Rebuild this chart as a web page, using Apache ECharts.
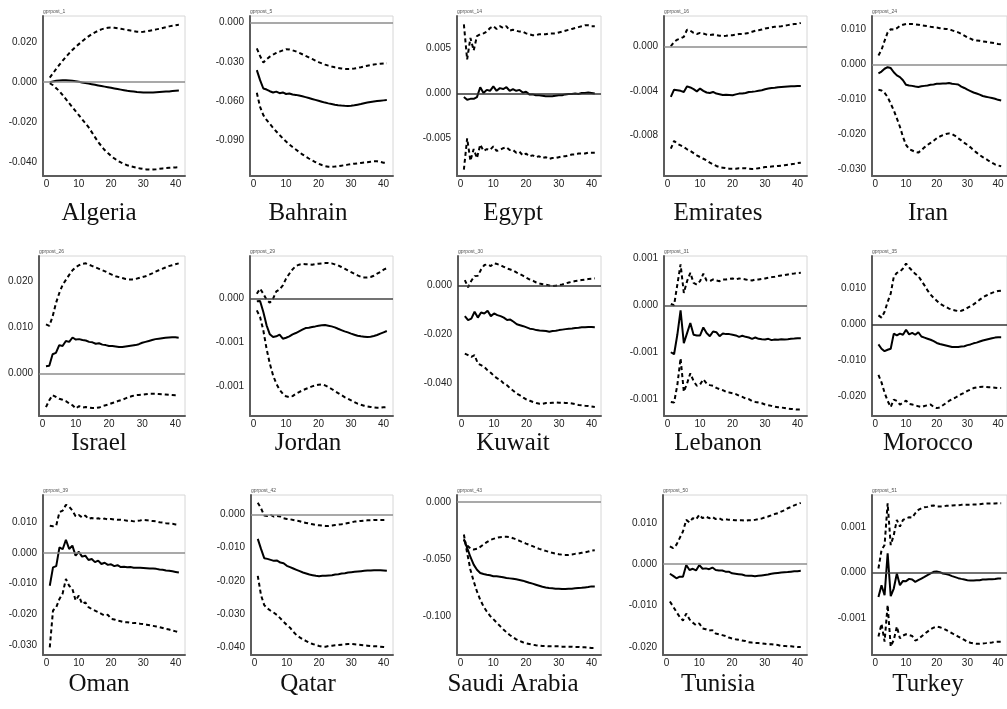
<!DOCTYPE html>
<html>
<head>
<meta charset="utf-8">
<script src="https://cdn.jsdelivr.net/npm/echarts@6/dist/echarts.min.js"></script>
<style>
  html, body { margin: 0; padding: 0; background: #fff; }
  #irf { width: 1007px; height: 709px; }
</style>
</head>
<body>
<div id="irf"></div>
<script>
// horizons after the shock
const horizon = [1, 2, 3, 4, 5, 6, 7, 8, 9, 10, 11, 12, 13, 14, 15, 16, 17, 18, 19, 20,
  21, 22, 23, 24, 25, 26, 27, 28, 29, 30, 31, 32, 33, 34, 35, 36, 37, 38, 39, 40, 41];
const xTicks = [0, 10, 20, 30, 40];

const countries = ['Algeria', 'Bahrain', 'Egypt', 'Emirates', 'Iran',
  'Israel', 'Jordan', 'Kuwait', 'Lebanon', 'Morocco',
  'Oman', 'Qatar', 'Saudi Arabia', 'Tunisia', 'Turkey'];
const shockCodes = ['gprpost_1', 'gprpost_5', 'gprpost_14', 'gprpost_16', 'gprpost_24',
  'gprpost_26', 'gprpost_29', 'gprpost_30', 'gprpost_31', 'gprpost_35',
  'gprpost_39', 'gprpost_42', 'gprpost_43', 'gprpost_50', 'gprpost_51'];

// all responses below are in units of 0.001
const yRange = [[-47, 33.2], [-117.4, 5.1], [-9.2, 8.64], [-11.65, 2.72], [-31.9, 13.9],
  [-9.24, 25.6], [-1.343, 0.489], [-53.2, 12], [-1.179, 0.525], [-25.6, 19.1],
  [-33.3, 18.9], [-42.3, 5.8], [-133.6, 6.1], [-21.9, 16.7], [-0.903, 0.848]];
const yTicks = [[-40, -20, 0, 20], [-90, -60, -30, 0], [-5, 0, 5], [-8, -4, 0], [-30, -20, -10, 0, 10],
  [0, 10, 20], [-1, -0.5, 0], [-40, -20, 0], [-1, -0.5, 0, 0.5], [-20, -10, 0, 10],
  [-30, -20, -10, 0, 10], [-40, -30, -20, -10, 0], [-100, -50, 0], [-20, -10, 0, 10], [-0.5, 0, 0.5]];

// lower band, response, upper band
const algeriaLo = [-0.5, -1.5, -3, -4.5, -6.5, -8.5, -10.5, -12.5, -14.5, -16.5, -18.5, -20.5, -22.5, -25, -27.5, -30, -32, -34, -35.5, -37,
  -38.2, -39.3, -40.2, -41, -41.6, -42.1, -42.5, -42.9, -43.2, -43.5, -43.7, -43.8, -43.7, -43.6, -43.4, -43.2, -43, -42.9, -42.8, -42.7, -42.6];
const algeriaMid = [0, 0.4, 0.7, 0.9, 1.0, 1.0, 0.9, 0.7, 0.5, 0.2, -0.1, -0.4, -0.7, -1.0, -1.3, -1.6, -1.9, -2.2, -2.5, -2.8,
  -3.1, -3.4, -3.7, -4.0, -4.3, -4.5, -4.7, -4.9, -5.0, -5.1, -5.2, -5.2, -5.1, -5.0, -4.9, -4.8, -4.7, -4.6, -4.4, -4.3, -4.2];
const algeriaHi = [2.3, 4.5, 6.7, 8.8, 10.8, 12.7, 14.5, 16.2, 17.7, 19.1, 20.5, 21.8, 23, 24.1, 25, 25.8, 26.5, 27, 27.3, 27.4,
  27.3, 27.1, 26.8, 26.5, 26.2, 25.9, 25.6, 25.3, 25.2, 25.3, 25.5, 25.8, 26.1, 26.5, 26.8, 27.2, 27.6, 28, 28.3, 28.6, 28.8];

const bahrainLo = [-53.7, -64.5, -70.8, -74.5, -77.5, -80.5, -83.3, -86, -88.6, -91, -93.2, -95.2, -97.1, -99, -100.8, -102.4, -104, -105.4, -106.7, -108,
  -109, -109.8, -110.3, -110.4, -110.2, -109.9, -109.5, -109.1, -108.7, -108.3, -108, -107.7, -107.4, -107.1, -106.8, -106.5, -106.2, -106.1, -106.6, -107.2, -107.3];
const bahrainMid = [-36.3, -44, -50.4, -51.2, -52.5, -53.5, -52.8, -54, -53.4, -54.6, -54.2, -55, -55.3, -55.8, -56.4, -57, -57.7, -58.4, -59.1, -59.8,
  -60.5, -61.2, -61.8, -62.3, -62.8, -63.2, -63.5, -63.7, -63.8, -63.6, -63.3, -62.8, -62.3, -61.7, -61.2, -60.7, -60.3, -60, -59.7, -59.5, -59.3];
const bahrainHi = [-19.7, -25.5, -30.5, -28, -26, -24.5, -23.2, -22.2, -21.2, -20.3, -20.5, -21.2, -22.0, -23, -24.2, -25.4, -26.6, -27.8, -29, -30.2,
  -31.2, -32.1, -32.9, -33.6, -34.2, -34.7, -35.1, -35.4, -35.5, -35.4, -35.1, -34.6, -34.1, -33.5, -33, -32.5, -32.1, -31.7, -31.4, -31.2, -31.0];

const egyptLo = [-8.5, -5.0, -7.5, -6.2, -7.2, -5.7, -6.4, -6.2, -6.3, -5.9, -6.4, -6.3, -6.1, -6.0, -6.3, -6.3, -6.6, -6.5, -6.9, -6.7,
  -7.0, -6.9, -7.1, -7.0, -7.2, -7.1, -7.3, -7.2, -7.2, -7.1, -7.0, -7.0, -6.9, -6.8, -6.8, -6.7, -6.7, -6.7, -6.6, -6.6, -6.6];
const egyptMid = [-0.4, -0.7, -0.6, -0.6, -0.4, 0.7, 0.05, 0.4, 0.3, 0.8, 0.3, 0.6, 0.5, 0.7, 0.3, 0.5, 0.3, 0.4, 0.1, 0.2,
  -0.1, -0.1, -0.2, -0.2, -0.25, -0.3, -0.3, -0.3, -0.25, -0.2, -0.2, -0.1, -0.05, -0.05, 0, -0.05, 0.05, 0.05, 0.1, 0.05, 0];
const egyptHi = [7.7, 3.8, 6.2, 4.8, 6.4, 6.6, 6.7, 6.9, 7.3, 7.5, 7.2, 7.5, 7.3, 7.5, 7.0, 7.1, 7.0, 6.9, 6.9, 6.7,
  6.6, 6.5, 6.5, 6.6, 6.6, 6.6, 6.7, 6.7, 6.7, 6.8, 6.9, 7.0, 7.1, 7.2, 7.3, 7.4, 7.5, 7.6, 7.6, 7.5, 7.5];

const emiratesLo = [-9.2, -8.5, -8.75, -8.9, -9.05, -9.25, -9.4, -9.6, -9.8, -9.95, -10.1, -10.25, -10.45, -10.6, -10.75, -10.85, -10.9, -10.95, -11.0, -11.0,
  -11.0, -10.95, -10.95, -10.95, -11.0, -11.02, -11.0, -10.95, -10.9, -10.85, -10.82, -10.8, -10.78, -10.75, -10.72, -10.68, -10.65, -10.6, -10.55, -10.48, -10.45];
const emiratesMid = [-4.55, -3.9, -3.95, -4.0, -4.1, -3.6, -3.7, -3.85, -4.05, -3.8, -4.0, -4.15, -4.2, -4.1, -4.25, -4.3, -4.37, -4.35, -4.37, -4.4,
  -4.32, -4.25, -4.25, -4.2, -4.1, -4.08, -4.05, -4.0, -3.95, -3.86, -3.8, -3.75, -3.72, -3.68, -3.66, -3.64, -3.62, -3.6, -3.58, -3.56, -3.56];
const emiratesHi = [0, 0.4, 0.6, 0.7, 0.85, 1.5, 1.4, 1.2, 1.1, 1.2, 1.15, 1.05, 1.0, 1.05, 1.0, 0.95, 0.92, 0.95, 1.0, 1.0,
  1.05, 1.1, 1.1, 1.15, 1.2, 1.3, 1.4, 1.45, 1.5, 1.6, 1.65, 1.7, 1.75, 1.78, 1.8, 1.85, 1.9, 1.95, 2.0, 2.0, 2.1];

const iranLo = [-7.2, -7.4, -8.1, -9.3, -11.2, -13.1, -15.4, -17.8, -20.7, -23.0, -24.2, -24.6, -25.0, -25.2, -24.5, -23.7, -23.0, -22.4, -21.8, -21.1,
  -20.6, -20.2, -19.9, -19.7, -19.9, -20.4, -21.1, -21.7, -22.4, -23.0, -23.7, -24.5, -25.2, -25.9, -26.5, -27.0, -27.6, -28.1, -28.6, -28.9, -29.1];
const iranMid = [-2.5, -2.0, -1.2, -0.75, -1.0, -2.2, -3.1, -3.6, -4.5, -5.8, -6.0, -6.1, -6.3, -6.4, -6.2, -6.1, -6.0, -5.8, -5.7, -5.5,
  -5.5, -5.4, -5.4, -5.3, -5.5, -5.6, -5.7, -6.3, -6.7, -7.2, -7.6, -8.0, -8.3, -8.6, -9.0, -9.2, -9.4, -9.6, -9.8, -10.1, -10.3];
const iranHi = [2.6, 4.2, 6.8, 9.2, 10.1, 10.0, 10.4, 11.1, 11.4, 11.6, 11.6, 11.6, 11.5, 11.4, 11.2, 11.1, 11.0, 10.8, 10.7, 10.6,
  10.4, 10.3, 10.2, 10.1, 9.8, 9.5, 9.2, 8.8, 8.3, 7.8, 7.4, 7.0, 6.9, 6.8, 6.6, 6.5, 6.4, 6.25, 6.1, 5.9, 5.8];

const israelLo = [-7.3, -5.8, -4.7, -5.1, -5.5, -5.7, -6.0, -6.5, -6.9, -7.6, -7.1, -7.4, -7.3, -7.4, -7.5, -7.5, -7.4, -7.1, -6.9, -6.7,
  -6.4, -6.2, -5.9, -5.7, -5.4, -5.1, -4.9, -4.7, -4.65, -4.6, -4.5, -4.4, -4.4, -4.4, -4.45, -4.5, -4.55, -4.6, -4.65, -4.7, -4.7];
const israelMid = [1.6, 1.7, 4.2, 4.5, 6.2, 6.0, 7.1, 6.9, 7.85, 7.4, 7.5, 7.3, 7.2, 6.9, 6.8, 6.5, 6.6, 6.3, 6.2, 6.0,
  6.0, 5.9, 5.8, 5.8, 5.9, 6.0, 6.1, 6.2, 6.4, 6.7, 6.9, 7.1, 7.3, 7.5, 7.6, 7.7, 7.8, 7.85, 7.9, 7.9, 7.8];
const israelHi = [10.7, 10.4, 12.4, 15.3, 17.5, 19.3, 20.4, 21.5, 22.5, 23.2, 23.6, 23.9, 24.0, 23.7, 23.4, 23.1, 22.8, 22.5, 22.2, 21.8,
  21.5, 21.2, 21.0, 20.8, 20.6, 20.5, 20.5, 20.6, 20.8, 21.0, 21.2, 21.5, 21.8, 22.2, 22.5, 22.8, 23.1, 23.4, 23.6, 23.8, 24.0];

const jordanLo = [-0.134, -0.21, -0.363, -0.573, -0.744, -0.878, -0.973, -1.042, -1.088, -1.118, -1.126, -1.115, -1.088, -1.069, -1.05, -1.034, -1.019, -1.004, -0.992, -0.985,
  -0.981, -0.992, -1.011, -1.034, -1.057, -1.08, -1.103, -1.126, -1.145, -1.164, -1.183, -1.202, -1.214, -1.225, -1.233, -1.24, -1.244, -1.248, -1.248, -1.244, -1.24];
const jordanMid = [-0.03, -0.027, -0.153, -0.305, -0.408, -0.439, -0.431, -0.412, -0.458, -0.447, -0.431, -0.408, -0.393, -0.374, -0.355, -0.336, -0.332, -0.324, -0.317, -0.309,
  -0.305, -0.302, -0.309, -0.317, -0.328, -0.344, -0.359, -0.374, -0.386, -0.4, -0.412, -0.424, -0.431, -0.435, -0.439, -0.435, -0.427, -0.416, -0.4, -0.385, -0.37];
const jordanHi = [0.057, 0.115, 0.057, -0.01, -0.046, 0, 0.084, 0.107, 0.153, 0.23, 0.286, 0.336, 0.374, 0.39, 0.397, 0.395, 0.395, 0.39, 0.397, 0.4,
  0.404, 0.408, 0.41, 0.405, 0.393, 0.382, 0.363, 0.344, 0.324, 0.305, 0.286, 0.267, 0.252, 0.244, 0.244, 0.248, 0.263, 0.286, 0.305, 0.332, 0.35];

const kuwaitLo = [-27.8, -28.4, -29.1, -28.4, -31.8, -32.5, -33.2, -34.6, -35.6, -36.9, -37.9, -38.6, -40.0, -40.7, -42.0, -43.0, -44.1, -44.8, -45.7, -46.5,
  -47.0, -47.5, -47.9, -48.2, -48.2, -47.9, -47.9, -47.8, -47.7, -47.8, -47.8, -47.9, -47.9, -48.1, -48.4, -48.7, -48.8, -49.0, -49.1, -49.3, -49.5];
const kuwaitMid = [-12.5, -14.1, -13.5, -10.7, -13.1, -11.0, -11.4, -10.3, -12.5, -11.4, -12.1, -12.5, -13.1, -14.1, -13.9, -14.8, -15.8, -16.2, -16.6, -17.1,
  -17.6, -17.8, -18.2, -18.4, -18.5, -18.6, -18.9, -18.6, -18.5, -18.2, -18.0, -17.8, -17.6, -17.5, -17.3, -17.2, -17.0, -17.0, -16.9, -16.9, -17.0];
const kuwaitHi = [2.2, -0.8, 1.9, 3.8, 3.9, 6.5, 8.3, 8.6, 7.9, 9.0, 8.7, 8.2, 7.6, 6.9, 6.5, 6.0, 5.2, 4.6, 3.9, 3.1,
  2.4, 1.9, 1.2, 0.8, 0.5, 0.3, 0, -0.3, -0.1, 0.1, 0.4, 0.8, 1.2, 1.5, 1.8, 2.0, 2.2, 2.4, 2.6, 2.7, 2.9];

const lebanonLo = [-1.029, -1.036, -0.85, -0.564, -0.921, -0.832, -0.725, -0.807, -0.857, -0.843, -0.789, -0.832, -0.85, -0.857, -0.879, -0.893, -0.904, -0.921, -0.929, -0.936,
  -0.946, -0.964, -0.975, -0.993, -1.0, -1.021, -1.029, -1.036, -1.043, -1.057, -1.064, -1.071, -1.079, -1.086, -1.089, -1.093, -1.1, -1.104, -1.107, -1.111, -1.111];
const lebanonMid = [-0.5, -0.521, -0.314, -0.054, -0.404, -0.296, -0.189, -0.314, -0.321, -0.321, -0.236, -0.296, -0.329, -0.279, -0.286, -0.329, -0.3, -0.307, -0.307, -0.314,
  -0.321, -0.336, -0.325, -0.336, -0.343, -0.357, -0.343, -0.357, -0.361, -0.364, -0.357, -0.371, -0.364, -0.368, -0.361, -0.364, -0.361, -0.357, -0.354, -0.35, -0.35];
const lebanonHi = [0.014, 0, 0.22, 0.436, 0.132, 0.257, 0.346, 0.239, 0.221, 0.257, 0.336, 0.264, 0.257, 0.275, 0.264, 0.257, 0.275, 0.275, 0.282, 0.286,
  0.275, 0.286, 0.282, 0.275, 0.268, 0.264, 0.275, 0.275, 0.282, 0.286, 0.293, 0.3, 0.304, 0.311, 0.318, 0.321, 0.329, 0.336, 0.339, 0.343, 0.346];

const moroccoLo = [-14.1, -16.2, -19.1, -21.4, -23.1, -21.0, -21.4, -22.4, -21.9, -21.3, -22.2, -22.4, -22.6, -22.9, -23.1, -22.8, -22.6, -22.4, -23.1, -23.4,
  -23.2, -22.6, -22.0, -21.4, -20.9, -20.5, -20.0, -19.5, -19.1, -18.6, -18.2, -17.8, -17.6, -17.5, -17.4, -17.5, -17.6, -17.6, -17.7, -17.8, -17.8];
const moroccoMid = [-5.6, -6.8, -7.5, -7.1, -6.8, -2.6, -3.1, -2.6, -2.9, -1.5, -2.8, -2.4, -2.9, -2.2, -3.4, -3.7, -4.0, -4.3, -4.7, -5.2,
  -5.5, -5.7, -5.9, -6.1, -6.3, -6.3, -6.3, -6.2, -6.1, -5.8, -5.6, -5.3, -5.1, -4.8, -4.5, -4.3, -4.1, -3.9, -3.7, -3.6, -3.6];
const moroccoHi = [2.5, 1.9, 3.5, 6.3, 8.6, 13.3, 14.4, 14.7, 15.6, 17.0, 15.9, 15.0, 14.1, 13.5, 12.2, 10.9, 9.5, 8.3, 7.4, 6.6,
  5.8, 5.3, 4.9, 4.4, 4.1, 3.9, 3.7, 3.8, 4.1, 4.6, 5.1, 5.6, 6.2, 6.9, 7.5, 8.0, 8.4, 8.8, 9.1, 9.3, 9.4];

const omanLo = [-30.8, -18.8, -17.7, -15.0, -13.2, -8.5, -10.7, -11.7, -15.5, -13.9, -16.6, -16.1, -17.7, -18.3, -18.8, -19.3, -19.9, -20.4, -20.2, -21.5,
  -21.7, -22.1, -22.3, -22.6, -22.6, -22.8, -22.9, -22.9, -23.1, -23.2, -23.4, -23.6, -23.8, -24.0, -24.2, -24.5, -24.8, -25.0, -25.3, -25.6, -25.9];
const omanMid = [-10.7, -4.7, -4.3, 1.8, 1.2, 4.3, 1.3, 2.4, -0.9, 0.4, -1.2, -0.9, -2.3, -2.0, -3.0, -2.5, -3.6, -3.2, -3.9, -3.7,
  -4.3, -4.0, -4.6, -4.5, -4.7, -4.6, -4.8, -4.8, -4.8, -4.9, -5.0, -5.1, -5.1, -5.2, -5.4, -5.5, -5.7, -5.8, -6.0, -6.2, -6.4];
const omanHi = [8.9, 8.7, 8.9, 13.3, 13.8, 15.7, 15.1, 13.8, 12.0, 12.4, 11.6, 12.2, 11.1, 11.4, 11.1, 11.3, 11.0, 11.2, 10.9, 11.1,
  10.9, 10.8, 10.8, 10.7, 10.5, 10.5, 10.3, 10.5, 10.6, 10.8, 10.7, 10.5, 10.4, 10.3, 10.0, 9.9, 9.7, 9.6, 9.5, 9.3, 9.2];

const qatarLo = [-18.5, -24.3, -27.3, -28.3, -29.0, -29.6, -30.3, -31.3, -32.3, -33.3, -34.1, -35.3, -36.3, -37.0, -37.6, -38.1, -38.6, -39.0, -39.3, -39.6,
  -39.8, -39.8, -39.6, -39.5, -39.4, -39.3, -39.2, -39.1, -39.0, -39.0, -39.1, -39.2, -39.3, -39.4, -39.5, -39.6, -39.7, -39.7, -39.8, -39.9, -40.0];
const qatarMid = [-7.4, -10.4, -13.2, -13.4, -13.7, -14.0, -13.9, -14.5, -14.7, -15.5, -15.9, -16.3, -16.7, -17.1, -17.5, -17.8, -18.1, -18.3, -18.5, -18.6,
  -18.5, -18.5, -18.4, -18.3, -18.1, -18.0, -17.8, -17.7, -17.5, -17.4, -17.3, -17.2, -17.1, -17.0, -16.9, -16.9, -16.8, -16.8, -16.8, -16.9, -17.0];
const qatarHi = [3.5, 1.8, -0.4, -0.5, -0.2, -0.7, -0.5, -0.7, -1.2, -1.4, -1.5, -1.7, -1.9, -2.1, -2.4, -2.6, -2.8, -3.0, -3.2, -3.3,
  -3.4, -3.5, -3.5, -3.4, -3.2, -3.1, -3.0, -2.8, -2.6, -2.4, -2.2, -2.1, -2.0, -1.9, -1.8, -1.8, -1.7, -1.7, -1.7, -1.7, -1.6];

const saudiLo = [-28.4, -44.4, -59.1, -69.3, -78.1, -85.4, -91.2, -95.6, -99.4, -102.3, -105.3, -108.2, -111.1, -113.7, -116.1, -118.1, -119.9, -121.3, -122.5, -123.4,
  -124.0, -124.6, -125.1, -125.4, -125.7, -125.7, -126.0, -126.0, -126.0, -126.0, -126.3, -126.3, -126.3, -126.3, -126.6, -126.6, -126.9, -126.9, -127.2, -127.5, -127.5];
const saudiMid = [-32.7, -40.0, -48.0, -54.7, -59.1, -62.0, -62.9, -63.5, -64.0, -64.9, -64.9, -65.2, -65.8, -66.4, -66.7, -67.0, -67.5, -68.1, -68.7, -69.6,
  -70.5, -71.3, -72.2, -73.1, -74.0, -74.6, -75.1, -75.4, -75.7, -75.7, -76.0, -76.0, -75.7, -75.7, -75.4, -75.1, -74.9, -74.6, -74.3, -73.7, -73.7];
const saudiHi = [-32.7, -38.0, -40.4, -41.5, -40.9, -39.2, -37.1, -35.1, -33.3, -32.2, -31.3, -30.7, -30.4, -30.4, -30.7, -31.6, -32.7, -33.9, -35.1, -36.3,
  -37.4, -38.6, -39.8, -40.9, -41.8, -42.7, -43.6, -44.4, -45.0, -45.6, -46.0, -46.2, -46.2, -45.9, -45.3, -45.0, -44.4, -43.9, -43.3, -42.4, -42.1];

const tunisiaLo = [-9.0, -10.2, -11.5, -12.7, -13.6, -11.9, -13.3, -14.1, -14.7, -14.3, -15.5, -15.7, -16.0, -15.9, -16.7, -16.9, -17.1, -17.3, -17.7, -17.9,
  -18.1, -18.2, -18.4, -18.5, -18.8, -18.9, -19.0, -19.0, -19.1, -19.2, -19.3, -19.3, -19.4, -19.5, -19.7, -19.7, -19.8, -19.8, -19.9, -20.0, -20.0];
const tunisiaMid = [-2.3, -2.8, -3.4, -3.0, -3.0, -0.2, -1.4, -1.1, -1.5, -0.2, -1.1, -1.0, -1.2, -0.8, -1.4, -1.5, -1.5, -1.8, -1.8, -2.2,
  -2.3, -2.4, -2.5, -2.7, -2.8, -2.8, -2.9, -2.8, -2.7, -2.6, -2.5, -2.3, -2.2, -2.1, -2.0, -1.95, -1.9, -1.8, -1.7, -1.7, -1.6];
const tunisiaHi = [4.3, 3.9, 4.7, 6.3, 7.9, 10.7, 10.1, 11.1, 10.8, 11.9, 11.1, 11.5, 11.1, 11.4, 10.9, 11.1, 10.7, 10.9, 10.7, 10.7,
  10.6, 10.6, 10.6, 10.5, 10.6, 10.6, 10.7, 10.9, 11.0, 11.3, 11.5, 11.8, 12.1, 12.3, 12.7, 13.0, 13.5, 13.8, 14.2, 14.5, 14.8];

const turkeyLo = [-0.701, -0.562, -0.756, -0.355, -0.811, -0.738, -0.592, -0.72, -0.69, -0.676, -0.684, -0.695, -0.745, -0.731, -0.701, -0.672, -0.647, -0.621, -0.603, -0.592,
  -0.6, -0.61, -0.628, -0.647, -0.665, -0.684, -0.701, -0.72, -0.738, -0.758, -0.769, -0.776, -0.78, -0.78, -0.776, -0.773, -0.769, -0.765, -0.76, -0.758, -0.758];
const turkeyMid = [-0.267, -0.139, -0.249, 0.209, -0.26, -0.176, -0.011, -0.139, -0.092, -0.095, -0.07, -0.077, -0.103, -0.084, -0.066, -0.048, -0.029, -0.011, 0.007, 0.011,
  0.004, -0.011, -0.018, -0.026, -0.04, -0.051, -0.062, -0.07, -0.077, -0.084, -0.088, -0.088, -0.084, -0.084, -0.077, -0.077, -0.073, -0.073, -0.07, -0.066, -0.066];
const turkeyHi = [0.044, 0.245, 0.3, 0.758, 0.3, 0.41, 0.575, 0.502, 0.575, 0.593, 0.604, 0.6, 0.648, 0.684, 0.703, 0.714, 0.718, 0.729, 0.733, 0.722,
  0.722, 0.722, 0.729, 0.729, 0.733, 0.736, 0.736, 0.74, 0.74, 0.74, 0.74, 0.744, 0.744, 0.747, 0.751, 0.755, 0.755, 0.755, 0.755, 0.758, 0.758];

const bands = [
  [algeriaLo, algeriaMid, algeriaHi], [bahrainLo, bahrainMid, bahrainHi], [egyptLo, egyptMid, egyptHi],
  [emiratesLo, emiratesMid, emiratesHi], [iranLo, iranMid, iranHi], [israelLo, israelMid, israelHi],
  [jordanLo, jordanMid, jordanHi], [kuwaitLo, kuwaitMid, kuwaitHi], [lebanonLo, lebanonMid, lebanonHi],
  [moroccoLo, moroccoMid, moroccoHi], [omanLo, omanMid, omanHi], [qatarLo, qatarMid, qatarHi],
  [saudiLo, saudiMid, saudiHi], [tunisiaLo, tunisiaMid, tunisiaHi], [turkeyLo, turkeyMid, turkeyHi]
];

// layout (pixels)
const plotLeft = [43, 250, 457, 664, 872, 39, 250, 458, 664, 872, 43, 251, 457, 663, 872];
const colRight = [185, 393, 601, 807, 1015];
const rowTop = [16, 256, 495];
const plotH = 160;
const titleX = [99, 308, 513, 718, 928];
const titleY = [213, 443, 684];
const zeroColor = ['#8c8c8c', '#8c8c8c', '#333', '#8c8c8c', '#8c8c8c',
  '#8c8c8c', '#444', '#333', '#555', '#333',
  '#8c8c8c', '#8c8c8c', '#8c8c8c', '#8c8c8c', '#444'];

const labelFont = { fontSize: 10, color: '#222', fontFamily: 'Liberation Sans, Arial, sans-serif' };

const chart = echarts.init(document.getElementById('irf'));
const grid = [], xAxis = [], yAxis = [], series = [], graphic = [];

countries.forEach((name, i) => {
  const col = i % 5;
  const row = Math.floor(i / 5);
  grid.push({
    left: plotLeft[i], top: rowTop[row], width: colRight[col] - plotLeft[i], height: plotH,
    show: true, borderColor: '#d6d6d6', borderWidth: 1, backgroundColor: '#fff'
  });
  xAxis.push({
    type: 'value', gridIndex: i, min: -1.1, max: 42.9,
    axisLine: { show: true, onZero: false, lineStyle: { color: '#5c5c5c', width: 2 } },
    axisTick: { show: false },
    splitLine: { show: false },
    axisLabel: Object.assign({ customValues: xTicks, margin: 3 }, labelFont)
  });
  yAxis.push({
    type: 'value', gridIndex: i, min: yRange[i][0], max: yRange[i][1],
    axisLine: { show: true, onZero: false, lineStyle: { color: '#5c5c5c', width: 2 } },
    axisTick: { show: false },
    splitLine: { show: false },
    axisLabel: Object.assign({
      customValues: yTicks[i], margin: 6,
      formatter: v => (v / 1000).toFixed(3)
    }, labelFont)
  });

  const [lo, mid, hi] = bands[i];
  const pairs = arr => horizon.map((h, k) => [h, arr[k]]);
  const dashed = { color: '#000', width: 2, type: [4, 3] };
  series.push({
    type: 'line', xAxisIndex: i, yAxisIndex: i, data: pairs(lo), symbol: 'none',
    lineStyle: dashed, silent: true, z: 3
  });
  series.push({
    type: 'line', xAxisIndex: i, yAxisIndex: i, data: pairs(hi), symbol: 'none',
    lineStyle: dashed, silent: true, z: 3
  });
  series.push({
    type: 'line', xAxisIndex: i, yAxisIndex: i, data: pairs(mid), symbol: 'none',
    lineStyle: { color: '#000', width: 2 }, silent: true, z: 3,
    markLine: {
      silent: true, symbol: 'none', label: { show: false }, animation: false,
      lineStyle: { color: zeroColor[i], width: 1.5, type: 'solid' },
      data: [{ yAxis: 0 }]
    }
  });

  graphic.push({
    type: 'text', x: plotLeft[i], y: rowTop[row] - 4.5,
    style: { text: shockCodes[i], fontSize: 5, fontFamily: 'Liberation Sans', fill: '#555', verticalAlign: 'middle' }
  });
  graphic.push({
    type: 'text', x: titleX[col], y: titleY[row],
    style: { text: name, fontSize: 25, fontFamily: 'Liberation Serif', fill: '#111', align: 'center', verticalAlign: 'middle' }
  });
});

chart.setOption({
  animation: false,
  backgroundColor: '#fff',
  grid: grid,
  xAxis: xAxis,
  yAxis: yAxis,
  series: series,
  graphic: graphic
});
</script>
</body>
</html>
